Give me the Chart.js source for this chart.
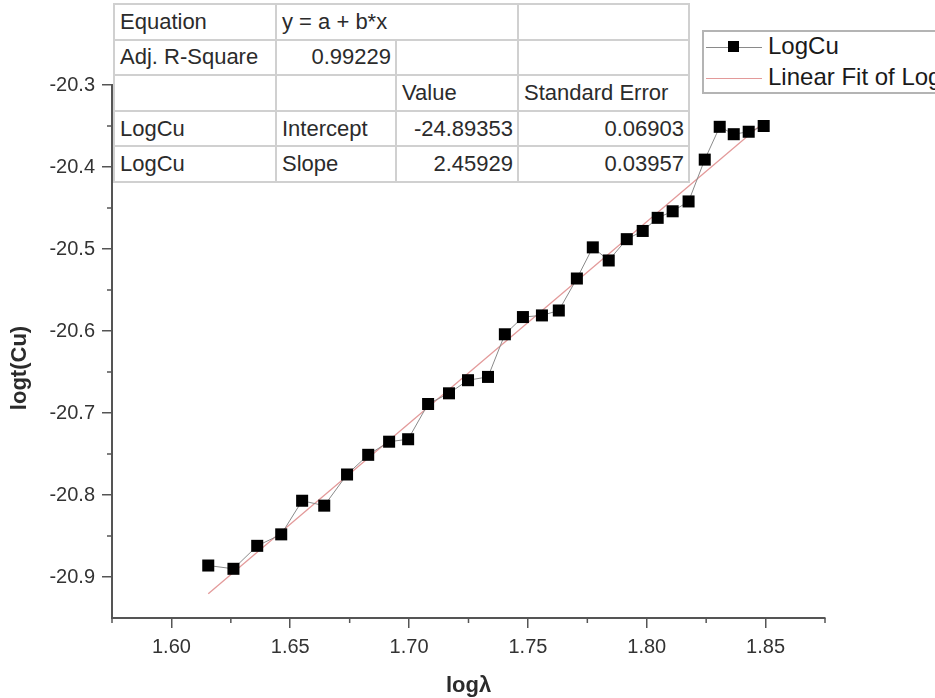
<!DOCTYPE html>
<html><head><meta charset="utf-8">
<script src="https://cdn.jsdelivr.net/npm/chart.js@4/dist/chart.umd.min.js"></script>
<style>
html,body{margin:0;padding:0;background:#fff;}
#wrap{position:relative;width:935px;height:698px;overflow:hidden;font-family:"Liberation Sans",Arial,sans-serif;}
#c{position:absolute;left:0;top:0;}
table.fit{position:absolute;left:113px;top:3px;width:575px;height:180px;border-collapse:collapse;table-layout:fixed;background:#fff;font-size:22px;color:#2b2b2b;border:2px solid #a8a8a8;}
table.fit td{border:2px solid #d0d0d0;height:32px;padding:0 4px 0 5px;white-space:nowrap;overflow:hidden;}
table.fit td.r{text-align:right;}
#legend{position:absolute;left:702px;top:30px;width:300px;height:60px;border:2px solid #b4b4b4;background:#fff;font-size:24px;color:#1a1a1a;}
.lrow{position:absolute;left:0;height:30px;width:300px;}
.lline{position:absolute;left:2px;width:56px;top:15px;height:0;}
.lsq{position:absolute;left:24px;top:9px;width:11px;height:11px;background:#000;}
.ltxt{position:absolute;left:64px;top:0px;line-height:28px;}
</style>
</head><body>
<div id="wrap">
<canvas id="c" width="935" height="698"></canvas>
<table class="fit">
<colgroup><col style="width:162px"><col style="width:120px"><col style="width:122px"><col style="width:171px"></colgroup>
<tr><td>Equation</td><td colspan="2">y = a + b*x</td><td></td></tr>
<tr><td>Adj. R-Square</td><td class="r">0.99229</td><td></td><td></td></tr>
<tr><td></td><td></td><td>Value</td><td>Standard Error</td></tr>
<tr><td>LogCu</td><td>Intercept</td><td class="r">-24.89353</td><td class="r">0.06903</td></tr>
<tr><td>LogCu</td><td>Slope</td><td class="r">2.45929</td><td class="r">0.03957</td></tr>
</table>
<div id="legend">
  <div class="lrow" style="top:0"><div class="lline" style="border-top:1px solid #8a8a8a"></div><div class="lsq"></div><div class="ltxt">LogCu</div></div>
  <div class="lrow" style="top:31px"><div class="lline" style="border-top:1px solid #e39a9a"></div><div class="ltxt">Linear Fit of LogCu</div></div>
</div>
</div>
<script>
const logLambda = [1.6155,1.6261,1.6361,1.6462,1.6550,1.6643,1.6739,1.6828,1.6916,1.6996,1.7080,1.7168,1.7248,1.7332,1.7403,1.7479,1.7559,1.7630,1.7706,1.7773,1.7840,1.7916,1.7983,1.8046,1.8109,1.8176,1.8244,1.8307,1.8366,1.8429,1.8492];
const logtCu = [-20.886,-20.890,-20.862,-20.848,-20.807,-20.813,-20.775,-20.751,-20.735,-20.732,-20.689,-20.676,-20.660,-20.656,-20.604,-20.583,-20.581,-20.575,-20.536,-20.498,-20.514,-20.488,-20.478,-20.462,-20.454,-20.442,-20.391,-20.351,-20.360,-20.357,-20.350];
const fitIntercept = -24.89353;
const fitSlope = 2.45929;
const fitXRange = [1.6155, 1.8492];
const xTicks = [1.60,1.65,1.70,1.75,1.80,1.85];
const yTicks = [-20.9,-20.8,-20.7,-20.6,-20.5,-20.4,-20.3];
const xMinorTicks = [1.575,1.625,1.675,1.725,1.775,1.825,1.875];
const yMinorTicks = [-20.85,-20.75,-20.65,-20.55,-20.45,-20.35];

const FONT = '"Liberation Sans", Arial, sans-serif';
const pts = logLambda.map((x,i)=>({x:x, y:logtCu[i]}));
const fitPts = fitXRange.map(x=>({x:x, y:fitIntercept + fitSlope*x}));

const extras = {
  id:'extras',
  afterDraw(chart){
    const ctx = chart.ctx, xs = chart.scales.x, ys = chart.scales.y;
    ctx.save();
    ctx.strokeStyle = '#555'; ctx.lineWidth = 1.5;
    xMinorTicks.forEach(v=>{const p = xs.getPixelForValue(v); ctx.beginPath(); ctx.moveTo(p, ys.bottom); ctx.lineTo(p, ys.bottom+5); ctx.stroke();});
    yMinorTicks.forEach(v=>{const p = ys.getPixelForValue(v); ctx.beginPath(); ctx.moveTo(xs.left, p); ctx.lineTo(xs.left-5, p); ctx.stroke();});
    ctx.fillStyle = '#2b2b2b';
    ctx.font = 'bold 22px ' + FONT;
    ctx.textAlign = 'center'; ctx.textBaseline = 'middle';
    ctx.fillText('logλ', (xs.left+xs.right)/2, 686);
    ctx.translate(20, 368); ctx.rotate(-Math.PI/2);
    ctx.fillText('logt(Cu)', 0, 0);
    ctx.restore();
  }
};

new Chart(document.getElementById('c'), {
  type:'scatter',
  data:{datasets:[
    {label:'LogCu', data:pts, showLine:true, borderColor:'#8a8a8a', borderWidth:1, pointStyle:'rect', pointRadius:8.5, pointBackgroundColor:'#000', pointBorderColor:'#000', pointBorderWidth:0, order:1},
    {label:'Linear Fit of LogCu', data:fitPts, showLine:true, borderColor:'#e39a9a', borderWidth:1.3, pointRadius:0, order:2}
  ]},
  options:{
    responsive:false, animation:false, events:[],
    layout:{padding:{left:0, top:85, right:110, bottom:0}},
    plugins:{legend:{display:false}, tooltip:{enabled:false}},
    scales:{
      x:{type:'linear', min:1.575, max:1.875,
        afterBuildTicks:s=>{s.ticks = xTicks.map(v=>({value:v}));},
        afterFit:s=>{s.height = 80;},
        grid:{drawOnChartArea:false, drawTicks:true, tickLength:10, color:'#555', lineWidth:1.5},
        border:{color:'#555', width:2},
        ticks:{color:'#333', font:{family:FONT, size:20}, padding:7, maxRotation:0, autoSkip:false, callback:v=>Number(v).toFixed(2)}
      },
      y:{type:'linear', min:-20.95, max:-20.30,
        afterBuildTicks:s=>{s.ticks = yTicks.map(v=>({value:v}));},
        afterFit:s=>{s.width = 112;},
        grid:{drawOnChartArea:false, drawTicks:true, tickLength:10, color:'#555', lineWidth:1.5},
        border:{color:'#555', width:2},
        ticks:{color:'#333', font:{family:FONT, size:20}, padding:7, autoSkip:false, callback:v=>Number(v).toFixed(1)}
      }
    }
  },
  plugins:[extras]
});
</script>
</body></html>
